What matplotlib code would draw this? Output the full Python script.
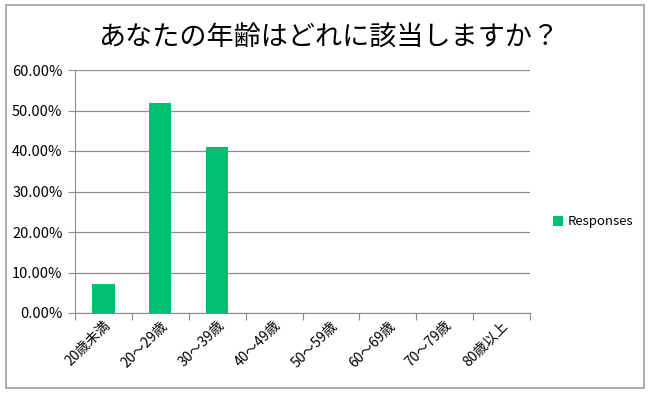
import matplotlib.pyplot as plt
from matplotlib.patches import Rectangle
from matplotlib.ticker import PercentFormatter

plt.rcParams['font.family'] = ['Noto Sans CJK JP', 'DejaVu Sans']

categories = ["20歳未満", "20〜29歳", "30〜39歳", "40〜49歳",
              "50〜59歳", "60〜69歳", "70〜79歳", "80歳以上"]
responses = [7.14, 51.79, 41.07, 0, 0, 0, 0, 0]
title = "あなたの年齢はどれに該当しますか？"
green = "#00BF6F"


def main():
    fig = plt.figure(figsize=(6.53, 3.98), dpi=100)
    W, H = 653, 398
    ax = fig.add_axes([75 / W, 1 - 313 / H, (530 - 75) / W, (313 - 70) / H])

    # outer frame
    fig.patches.append(Rectangle((6 / W, 1 - 388 / H), (644 - 6) / W, (388 - 5) / H,
                                 transform=fig.transFigure, fill=False,
                                 edgecolor="#a0a0a0", linewidth=1.2))

    x = range(len(categories))
    ax.bar(x, responses, width=0.39, color=green, label="Responses", zorder=3)

    ax.set_xlim(-0.5, len(categories) - 0.5)
    ax.set_ylim(0, 60)
    ax.set_yticks(range(0, 61, 10))
    ax.yaxis.set_major_formatter(PercentFormatter(decimals=2))
    ax.yaxis.grid(True, color="#8c8c8c", linewidth=0.9, zorder=0)

    ax.set_xticks([i - 0.5 for i in range(len(categories) + 1)], minor=False)
    ax.set_xticklabels([])
    ax.set_xticks(list(x), minor=True)
    ax.set_xticklabels(categories, minor=True, rotation=45, ha="right",
                       rotation_mode="anchor", fontsize=10)
    ax.tick_params(axis="x", which="minor", length=0, pad=4)
    ax.tick_params(axis="x", which="major", length=5, color="#8c8c8c")
    ax.tick_params(axis="y", length=5, color="#8c8c8c", labelsize=10.5, pad=4)

    for side in ("top", "right"):
        ax.spines[side].set_visible(False)
    for side in ("left", "bottom"):
        ax.spines[side].set_color("#8c8c8c")

    fig.text(0.5 + 2 / W, 1 - 38 / H, title, ha="center", va="center", fontsize=19.5)

    ax.legend(loc="center left", bbox_to_anchor=(548 / W, 1 - 222 / H),
              bbox_transform=fig.transFigure, frameon=False, fontsize=9.5,
              borderaxespad=0, handlelength=0.7, handleheight=0.7,
              handletextpad=0.4)

    fig.savefig("out.png", dpi=100)


if __name__ == "__main__":
    main()
